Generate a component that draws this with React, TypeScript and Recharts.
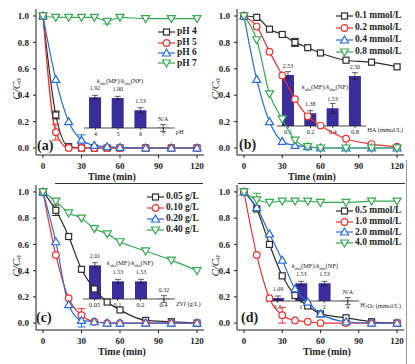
import React from "react";
import { Bar, BarChart, ErrorBar, LabelList, Legend, Line, LineChart, XAxis, YAxis } from "recharts";

const FONT = '"Liberation Serif", "DejaVu Serif", serif';
const INK = "#1e1e1e";
const BAR = "#3a2d9c";
const BLACK = "#2b2b2b";
const RED = "#ee3030";
const BLUE = "#2a6bd6";
const GREEN = "#36a852";

// sampling times (min)
const TIME = [0, 10, 20, 30, 40, 50, 60, 80, 100, 120];
const X_TICKS = [0, 30, 60, 90, 120];
const Y_TICKS = [0, 0.2, 0.4, 0.6, 0.8, 1.0];

// (a) initial pH
const PH4 = [1, 0.25, 0.01, 0, 0, 0, 0, 0, 0, 0];
const PH5 = [1, 0.12, 0, 0, 0, 0, 0, 0, 0, 0];
const PH6 = [1, 0.52, 0.2, 0.06, 0.02, 0.01, 0.005, 0, 0, 0];
const PH7 = [1, 0.99, 0.99, 0.99, 0.99, 0.96, 0.99, 0.98, 0.98, 0.98];
const PH4_ERR = [null, 0.03, null, null, null, null, null, null, null, null];
const PH5_ERR = [null, 0.06, null, null, null, null, null, null, null, null];
const PH6_ERR = [null, null, null, 0.04, null, null, null, null, null, null];
const PH7_ERR = [null, null, null, null, null, 0.02, null, null, null, null];

// (b) HA concentration
const HA01 = [1, 0.99, 0.9, 0.86, 0.8, 0.76, 0.72, 0.665, 0.65, 0.615];
const HA02 = [1, 0.92, 0.73, 0.55, 0.37, 0.24, 0.17, 0.07, 0.03, 0.01];
const HA04 = [1, 0.52, 0.2, 0.05, 0.02, 0.01, 0, 0, 0, 0];
const HA08 = [1, 0.82, 0.41, 0.22, 0.06, 0.01, 0, 0, 0, 0];
const HA01_ERR = [null, null, null, null, 0.03, null, null, null, null, null];

// (c) ZVI dosage
const ZVI005 = [1, 0.86, 0.66, 0.41, 0.26, 0.16, 0.1, 0.02, 0.01, 0];
const ZVI010 = [1, 0.52, 0.19, 0.06, 0.01, 0, 0, 0, 0, 0];
const ZVI020 = [1, 0.62, 0.14, 0.02, 0.01, 0, 0, 0, 0, 0];
const ZVI040 = [1, 0.93, 0.84, 0.8, 0.72, 0.68, 0.62, 0.55, 0.48, 0.4];
const ZVI005_ERR = [null, 0.04, null, null, null, null, null, null, null, null];
const ZVI010_ERR = [null, null, null, 0.05, null, null, null, null, null, null];
const ZVI020_ERR = [null, null, null, 0.05, null, null, null, null, null, null];

// (d) H2O2 concentration
const H05 = [1, 0.87, 0.6, 0.36, 0.21, 0.13, 0.07, 0.04, 0.01, 0];
const H10 = [1, 0.52, 0.19, 0.06, 0.02, 0.01, 0, 0, 0, 0];
const H20 = [1, 0.88, 0.68, 0.48, 0.26, 0.16, 0.07, 0.01, 0, 0];
const H40 = [1, 0.94, 0.92, 0.93, 0.93, 0.93, 0.92, 0.92, 0.93, 0.93];
const H10_ERR = [null, null, null, 0.06, null, null, null, null, null, null];
const H40_ERR = [null, 0.05, null, null, null, null, null, null, null, null];
const NONE = TIME.map(() => null);

// inset ratios kobs(MF)/kobs(NF)
const PH_CATS = ["4", "5", "6", "7"];
const PH_RATIO = [1.92, 1.9, 1.53, null];
const PH_RERR = [0.06, 0.05, 0.08, 0.1];
const HA_CATS = ["0.1", "0.2", "0.4", "0.8"];
const HA_RATIO = [2.53, 1.38, 1.53, 2.5];
const HA_RERR = [0.1, 0.08, 0.15, 0.1];
const ZVI_CATS = ["0.05", "0.1", "0.2", "0.4"];
const ZVI_RATIO = [2.01, 1.53, 1.53, 0.32];
const ZVI_RERR = [0.08, 0.06, 0.06, 0.1];
const H_CATS = ["0.5", "1", "2", "4"];
const H_RATIO = [1.09, 1.53, 1.53, null];
const H_RERR = [0.06, 0.06, 0.06, 0.1];

type Shape = "square" | "circle" | "up" | "down";
type Series = { name: string; values: number[]; errors: (number | null)[]; color: string; shape: Shape };

function Marker({ shape, cx, cy, color }: { shape: Shape; cx: number; cy: number; color: string }) {
  const common = { fill: "#fff", stroke: color, strokeWidth: 1.2 };
  if (shape === "square") return <rect x={cx - 3} y={cy - 3} width={6} height={6} {...common} />;
  if (shape === "circle") return <circle cx={cx} cy={cy} r={3.3} {...common} />;
  if (shape === "up")
    return <polygon points={`${cx},${cy - 4} ${cx + 4},${cy + 3} ${cx - 4},${cy + 3}`} {...common} />;
  return <polygon points={`${cx},${cy + 4} ${cx + 4},${cy - 3} ${cx - 4},${cy - 3}`} {...common} />;
}

const seriesA: Series[] = [
  { name: "pH 4", values: PH4, errors: PH4_ERR, color: BLACK, shape: "square" },
  { name: "pH 5", values: PH5, errors: PH5_ERR, color: RED, shape: "circle" },
  { name: "pH 6", values: PH6, errors: PH6_ERR, color: BLUE, shape: "up" },
  { name: "pH 7", values: PH7, errors: PH7_ERR, color: GREEN, shape: "down" },
];
const seriesB: Series[] = [
  { name: "0.1 mmol/L", values: HA01, errors: HA01_ERR, color: BLACK, shape: "square" },
  { name: "0.2 mmol/L", values: HA02, errors: NONE, color: RED, shape: "circle" },
  { name: "0.4 mmol/L", values: HA04, errors: NONE, color: BLUE, shape: "up" },
  { name: "0.8 mmol/L", values: HA08, errors: NONE, color: GREEN, shape: "down" },
];
const seriesC: Series[] = [
  { name: "0.05 g/L", values: ZVI005, errors: ZVI005_ERR, color: BLACK, shape: "square" },
  { name: "0.10 g/L", values: ZVI010, errors: ZVI010_ERR, color: RED, shape: "circle" },
  { name: "0.20 g/L", values: ZVI020, errors: ZVI020_ERR, color: BLUE, shape: "up" },
  { name: "0.40 g/L", values: ZVI040, errors: NONE, color: GREEN, shape: "down" },
];
const seriesD: Series[] = [
  { name: "0.5 mmol/L", values: H05, errors: NONE, color: BLACK, shape: "square" },
  { name: "1.0 mmol/L", values: H10, errors: H10_ERR, color: RED, shape: "circle" },
  { name: "2.0 mmol/L", values: H20, errors: NONE, color: BLUE, shape: "up" },
  { name: "4.0 mmol/L", values: H40, errors: H40_ERR, color: GREEN, shape: "down" },
];

type InsetDef = {
  left: number; base: number; band: number;
  cats: string[]; ratios: (number | null)[]; errs: number[];
  axisName: React.ReactNode; titleX: number; titleY: number;
};

type PanelDef = {
  x: number; y: number; left: number; right: number; top: number; bottom: number;
  yTitle: [number, number]; xTitle: [number, number];
  legend: { x: number; y: number; row: number };
  letter: string; letterPos: [number, number];
  series: Series[]; inset: InsetDef;
};

const W = 205;
const H = 182;

function LegendBox({ series, row }: { series: Series[]; row: number }) {
  return (
    <div style={{ fontFamily: FONT, fontSize: 9.5, fontWeight: 700, color: INK }}>
      {series.map((s) => (
        <div key={s.name} style={{ display: "flex", alignItems: "center", height: row }}>
          <svg width={17} height={10} style={{ display: "block" }}>
            <line x1={0} y1={5} x2={17} y2={5} stroke={s.color} strokeWidth={1.2} />
            <Marker shape={s.shape} cx={8.5} cy={5} color={s.color} />
          </svg>
          <span style={{ marginLeft: 2, whiteSpace: "nowrap", lineHeight: 1 }}>{s.name}</span>
        </div>
      ))}
    </div>
  );
}

function Inset({ d, offX, offY }: { d: InsetDef; offX: number; offY: number }) {
  const rows = d.cats.map((c, i) => {
    const r = d.ratios[i];
    return { cat: c, h: r != null && r > 1 ? r : 1, err: d.errs[i], txt: r == null ? "N/A" : r.toFixed(2) };
  });
  const w = d.cats.length * d.band;
  return (
    <>
      <div style={{ position: "absolute", left: d.left - offX, top: d.base - 74 - offY }}>
        <BarChart width={w + 60} height={86} data={rows} margin={{ top: 14, right: 60, bottom: 0, left: 0 }}>
          <XAxis
            dataKey="cat"
            height={12}
            interval={0}
            tickSize={2}
            tickMargin={1}
            tick={{ fontSize: 6.5, fill: INK, fontFamily: FONT }}
            axisLine={{ stroke: INK, strokeWidth: 0.8 }}
            tickLine={{ stroke: INK, strokeWidth: 0.8 }}
            label={{
              content: () => (
                <text x={w + 1} y={78} fontSize={6.5} fontFamily={FONT} fill={INK} dominantBaseline="central">
                  {d.axisName}
                </text>
              ),
            }}
          />
          <YAxis hide domain={[1, 2.8]} allowDataOverflow />
          <Bar dataKey="h" fill={BAR} barSize={12} minPointSize={0.3} isAnimationActive={false}>
            <ErrorBar dataKey="err" width={3} stroke={INK} strokeWidth={0.7} />
            <LabelList dataKey="txt" position="top" offset={7} style={{ fontSize: 6, fontFamily: FONT, fill: INK }} />
          </Bar>
        </BarChart>
      </div>
      <div
        style={{
          position: "absolute",
          left: d.titleX - offX,
          top: d.titleY - offY - 4,
          transform: "translateX(-50%)",
          whiteSpace: "nowrap",
          fontFamily: FONT,
          fontSize: 6.5,
          lineHeight: "8px",
          color: INK,
        }}
      >
        <i>k</i>
        <sub style={{ fontSize: 4.5 }}>obs</sub>(MF)/<i>k</i>
        <sub style={{ fontSize: 4.5 }}>obs</sub>(NF)
      </div>
    </>
  );
}

function Panel({ p }: { p: PanelDef }) {
  const data = TIME.map((t, i) => {
    const r: Record<string, number | null> = { t };
    p.series.forEach((s, k) => {
      r[`v${k}`] = s.values[i];
      r[`e${k}`] = s.errors[i];
    });
    return r;
  });
  const tick = { fontSize: 9, fontWeight: 700, fill: INK, fontFamily: FONT };
  return (
    <div style={{ position: "absolute", left: p.x, top: p.y, width: W, height: H }}>
      <Inset d={p.inset} offX={p.x} offY={p.y} />
      <div style={{ position: "absolute", left: 0, top: 0 }}>
        <LineChart width={W} height={H} data={data} margin={{ top: p.top, right: p.right, bottom: 0, left: 0 }}>
          <XAxis
            dataKey="t"
            type="number"
            domain={[-5.45, 125.45]}
            allowDataOverflow
            ticks={X_TICKS}
            height={H - p.bottom}
            tickSize={3}
            tickMargin={5}
            tick={tick}
            axisLine={{ stroke: INK }}
            tickLine={{ stroke: INK }}
            label={{
              content: () => (
                <text
                  x={p.xTitle[0]}
                  y={p.xTitle[1]}
                  textAnchor="middle"
                  dominantBaseline="central"
                  fontFamily={FONT}
                  fontSize={10}
                  fontWeight={700}
                  fill={INK}
                >
                  Time (min)
                </text>
              ),
            }}
          />
          <XAxis
            xAxisId="top"
            orientation="top"
            type="number"
            domain={[0, 1]}
            height={0}
            tick={false}
            tickLine={false}
            axisLine={{ stroke: INK }}
          />
          <YAxis
            type="number"
            domain={[-0.053, 1.053]}
            allowDataOverflow
            ticks={Y_TICKS}
            width={p.left}
            tickSize={3}
            tickMargin={4}
            tick={tick}
            tickFormatter={(v: number) => v.toFixed(1)}
            axisLine={{ stroke: INK }}
            tickLine={{ stroke: INK }}
            label={{
              content: () => (
                <text
                  x={p.yTitle[0]}
                  y={p.yTitle[1]}
                  transform={`rotate(-90 ${p.yTitle[0]} ${p.yTitle[1]})`}
                  textAnchor="middle"
                  dominantBaseline="central"
                  fontFamily={FONT}
                  fontSize={11}
                  fontStyle="italic"
                  fill={INK}
                >
                  C/C<tspan fontSize={7} dy={3}>0</tspan>
                </text>
              ),
            }}
          />
          <YAxis
            yAxisId="right"
            orientation="right"
            type="number"
            domain={[0, 1]}
            width={0}
            tick={false}
            tickLine={false}
            axisLine={{ stroke: INK }}
          />
          {p.series.map((s, k) => (
            <Line
              key={s.name}
              dataKey={`v${k}`}
              name={s.name}
              type="monotone"
              stroke={s.color}
              strokeWidth={1.2}
              activeDot={false}
              isAnimationActive={false}
              dot={(dp: any) => (
                <Marker key={`${s.name}-${dp.index}`} shape={s.shape} cx={dp.cx} cy={dp.cy} color={s.color} />
              )}
            >
              <ErrorBar dataKey={`e${k}`} width={4} stroke={s.color} strokeWidth={1} />
            </Line>
          ))}
          <Legend
            layout="vertical"
            align="center"
            verticalAlign="middle"
            wrapperStyle={{ left: p.legend.x, top: p.legend.y, width: "auto", height: "auto" }}
            content={() => <LegendBox series={p.series} row={p.legend.row} />}
          />
        </LineChart>
      </div>
      <div
        style={{
          position: "absolute",
          left: p.letterPos[0],
          top: p.letterPos[1] - 8,
          fontFamily: FONT,
          fontSize: 14,
          fontWeight: 700,
          lineHeight: "16px",
          color: INK,
        }}
      >
        {p.letter}
      </div>
    </div>
  );
}

const PANELS: PanelDef[] = [
  {
    x: 0, y: 0, left: 36, right: 1, top: 9, bottom: 155,
    yTitle: [15.5, 89], xTitle: [112, 176],
    legend: { x: 158, y: 27, row: 10.4 },
    letter: "(a)", letterPos: [37, 146],
    series: seriesA,
    inset: { left: 83.7, base: 128, band: 22.7, cats: PH_CATS, ratios: PH_RATIO, errs: PH_RERR, axisName: "pH", titleX: 120, titleY: 81 },
  },
  {
    x: 205, y: 0, left: 32, right: 6, top: 9, bottom: 155,
    yTitle: [10, 89], xTitle: [107, 176],
    legend: { x: 131, y: 10, row: 12 },
    letter: "(b)", letterPos: [34, 145],
    series: seriesB,
    inset: { left: 276.8, base: 126, band: 22.3, cats: HA_CATS, ratios: HA_RATIO, errs: HA_RERR, axisName: "HA (mmol/L)", titleX: 325, titleY: 87 },
  },
  {
    x: 0, y: 178, left: 36, right: 1, top: 7, bottom: 152,
    yTitle: [15.5, 88], xTitle: [122, 173],
    legend: { x: 147, y: 13.5, row: 11 },
    letter: "(c)", letterPos: [36, 140],
    series: seriesC,
    inset: {
      left: 82.5, base: 299, band: 23, cats: ZVI_CATS, ratios: ZVI_RATIO, errs: ZVI_RERR,
      axisName: (<><tspan fontStyle="italic">ZVI</tspan> (g/L)</>), titleX: 130, titleY: 263,
    },
  },
  {
    x: 205, y: 178, left: 32, right: 6, top: 7, bottom: 152,
    yTitle: [10, 88], xTitle: [122, 173],
    legend: { x: 131, y: 27.6, row: 10.7 },
    letter: "(d)", letterPos: [36, 140],
    series: seriesD,
    inset: {
      left: 266.3, base: 301, band: 23.3, cats: H_CATS, ratios: H_RATIO, errs: H_RERR,
      axisName: (<>H<tspan fontSize={4.5} dy={1.5}>2</tspan><tspan dy={-1.5}>O</tspan><tspan fontSize={4.5} dy={1.5}>2</tspan><tspan dy={-1.5}> (mmol/L)</tspan></>),
      titleX: 315, titleY: 266,
    },
  },
];

export default function App() {
  return (
    <div style={{ position: "absolute", left: 0, top: 0, width: 415, height: 364, background: "#fff", overflow: "hidden" }}>
      {PANELS.map((p) => (
        <Panel key={p.letter} p={p} />
      ))}
      <div style={{ position: "absolute", left: 55, top: 183, width: 148, height: 1, background: "#333" }} />
      <div style={{ position: "absolute", left: 238, top: 183, width: 167, height: 1, background: "#333" }} />
      <div style={{ position: "absolute", left: 406, top: 160, width: 1, height: 204, background: "#999" }} />
    </div>
  );
}
